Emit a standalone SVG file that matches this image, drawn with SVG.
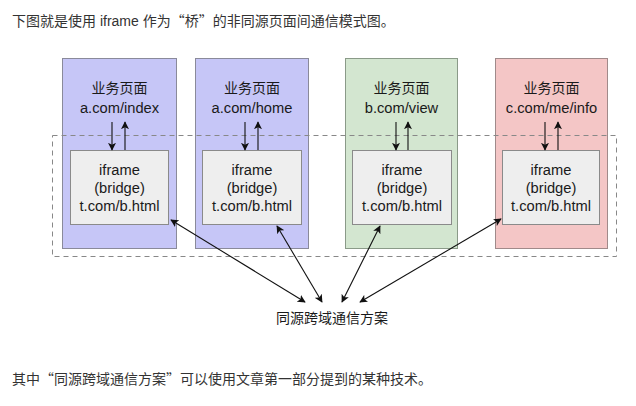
<svg xmlns="http://www.w3.org/2000/svg" width="636" height="406" viewBox="0 0 636 406">
<style>
text{font-family:"Liberation Sans","Noto Sans CJK SC",sans-serif;fill:#1a1a1a}
.c{text-anchor:middle;font-size:14.7px}
.z{font-family:"Noto Sans CJK SC",sans-serif;font-size:14px}
.p{font-size:14px;fill:#333}
.q{font-family:"Noto Sans CJK SC",sans-serif}
.blue{fill:#c6c6f7;stroke:#8a8a9a;stroke-width:1}
.green{fill:#d3e6d0;stroke:#8a9a88;stroke-width:1}
.red{fill:#f4c6c6;stroke:#a08a8a;stroke-width:1}
.inner{fill:#eeeeee;stroke:#8a8a8a;stroke-width:1}
.ln{stroke:#111;stroke-width:1.1;fill:none}
</style>
<defs>
<marker id="ah" viewBox="0 0 10 10" refX="9" refY="5" markerWidth="8" markerHeight="8" orient="auto-start-reverse" markerUnits="userSpaceOnUse">
<path d="M0,0 L10,5 L0,10 L2.5,5 z" fill="#111"/>
</marker>
</defs>
<rect width="636" height="406" fill="#fff"/>
<text class="p" x="12" y="26"><tspan class="q">下图就是使用</tspan> iframe <tspan class="q">作为“桥”的非同源页面间通信模式图。</tspan></text>

<g id="page1">
<rect class="blue" x="62.5" y="58.5" width="114" height="190"/>
<text class="c z" x="119.5" y="93">业务页面</text>
<text class="c" x="119.5" y="113">a.com/index</text>
</g>
<g id="page2">
<rect class="blue" x="195.5" y="58.5" width="113" height="190"/>
<text class="c z" x="252" y="93">业务页面</text>
<text class="c" x="252" y="113">a.com/home</text>
</g>
<g id="page3">
<rect class="green" x="345.5" y="58.5" width="112" height="190"/>
<text class="c z" x="401.5" y="93">业务页面</text>
<text class="c" x="401.5" y="113">b.com/view</text>
</g>
<g id="page4">
<rect class="red" x="495.5" y="58.5" width="112" height="190"/>
<text class="c z" x="551.5" y="93">业务页面</text>
<text class="c" x="551.5" y="113">c.com/me/info</text>
</g>

<g id="sameorigin-zone">
<rect x="52.5" y="135.5" width="564" height="121" fill="none" stroke="#888" stroke-width="1" stroke-dasharray="5,4"/>
</g>

<g id="iframe1">
<rect class="inner" x="70.5" y="150.5" width="98" height="74"/>
<text class="c" x="119.5" y="175">iframe</text>
<text class="c" x="119.5" y="193">(bridge)</text>
<text class="c" x="119.5" y="211">t.com/b.html</text>
</g>
<g id="iframe2">
<rect class="inner" x="202.5" y="150.5" width="99" height="74"/>
<text class="c" x="252" y="175">iframe</text>
<text class="c" x="252" y="193">(bridge)</text>
<text class="c" x="252" y="211">t.com/b.html</text>
</g>
<g id="iframe3">
<rect class="inner" x="352.5" y="150.5" width="99" height="74"/>
<text class="c" x="402" y="175">iframe</text>
<text class="c" x="402" y="193">(bridge)</text>
<text class="c" x="402" y="211">t.com/b.html</text>
</g>
<g id="iframe4">
<rect class="inner" x="502.5" y="150.5" width="97" height="74"/>
<text class="c" x="551" y="175">iframe</text>
<text class="c" x="551" y="193">(bridge)</text>
<text class="c" x="551" y="211">t.com/b.html</text>
</g>

<g id="scheme">
<text class="c z" x="332" y="323">同源跨域通信方案</text>
</g>

<g id="connectors">
<line class="ln" x1="112" y1="122" x2="112" y2="150" marker-end="url(#ah)"/>
<line class="ln" x1="125" y1="150" x2="125" y2="122" marker-end="url(#ah)"/>
<line class="ln" x1="245" y1="122" x2="245" y2="150" marker-end="url(#ah)"/>
<line class="ln" x1="258" y1="150" x2="258" y2="122" marker-end="url(#ah)"/>
<line class="ln" x1="396" y1="122" x2="396" y2="150" marker-end="url(#ah)"/>
<line class="ln" x1="408" y1="150" x2="408" y2="122" marker-end="url(#ah)"/>
<line class="ln" x1="545" y1="122" x2="545" y2="150" marker-end="url(#ah)"/>
<line class="ln" x1="558" y1="150" x2="558" y2="122" marker-end="url(#ah)"/>
<line class="ln" x1="171" y1="220" x2="305" y2="302" marker-start="url(#ah)" marker-end="url(#ah)"/>
<line class="ln" x1="277" y1="226" x2="322" y2="302" marker-start="url(#ah)" marker-end="url(#ah)"/>
<line class="ln" x1="380" y1="226" x2="342" y2="302" marker-start="url(#ah)" marker-end="url(#ah)"/>
<line class="ln" x1="501" y1="219" x2="360" y2="302" marker-start="url(#ah)" marker-end="url(#ah)"/>
</g>

<text class="p q" x="12" y="384">其中“同源跨域通信方案”可以使用文章第一部分提到的某种技术。</text>
</svg>
